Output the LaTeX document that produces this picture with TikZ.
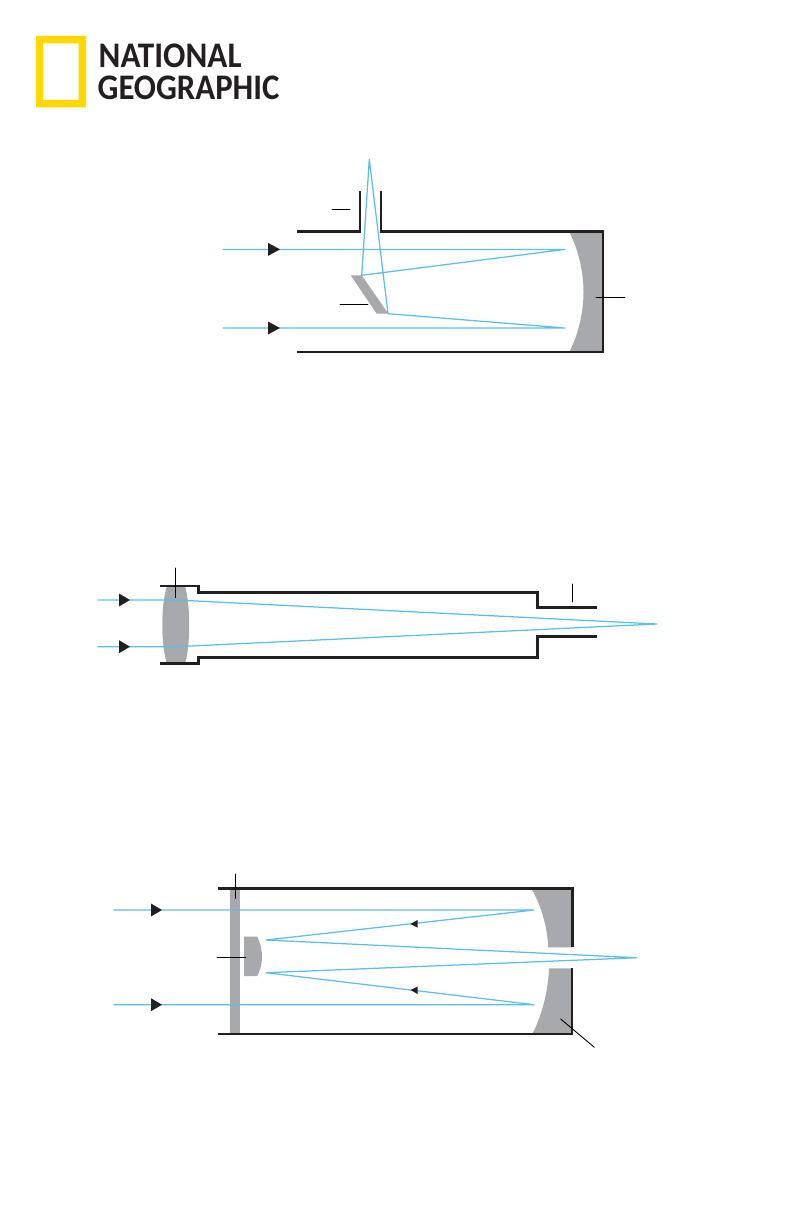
\documentclass[tikz,border=0pt]{standalone}
\usepackage{fontspec}
\setmainfont{Carlito}
\definecolor{natyellow}{HTML}{FFD802}
\definecolor{glassgray}{HTML}{A7A9AC}
\definecolor{raycyan}{HTML}{5CBEEC}
\definecolor{wallblack}{HTML}{231F20}
\tikzset{
ray/.style={raycyan, line width=1.25pt},
wall/.style={wallblack, line width=2.7pt, line cap=butt, line join=miter},
thinwall/.style={wallblack, line width=2.2pt, line cap=butt, line join=miter},
glass/.style={fill=glassgray, draw=none},
leader/.style={black, line width=.9pt},
brand/.style={wallblack, inner sep=0pt, anchor=base west, font=\fontsize{36}{36}\selectfont\bfseries}
}
\begin{document}
\begin{tikzpicture}[x=1pt, y=-1pt, line cap=round, line join=round]
\useasboundingbox (0,0) rectangle (793,1225);
\fill[natyellow, even odd rule] (36,36) rectangle (86,107.3) (43,43.3) rectangle (78.7,100);
\node[brand, xscale=.92] (nat) at (98.5,67.5) {NATIONAL};
\node[brand, xscale=.91] (geo) at (97.5,100) {GEOGRAPHIC};
% newtonian
\coordinate (Na) at (223,249.4);
\coordinate (Nb) at (565,249.4);
\coordinate (Nc) at (361.7,275.3);
\coordinate (Nd) at (369.3,159.3);
\coordinate (Ne) at (388,313.7);
\coordinate (Nf) at (565,328);
\coordinate (Ng) at (223,328);
\fill[glass] (569.3,232) .. controls (578.5,250) and (583.5,272) .. (583.5,292) .. controls (583.5,312) and (578.5,334) .. (569.3,352) -- (603,352) -- (603,232) -- cycle;
\fill[glass] (350.7,275.3) -- (361.7,275.3) -- (388.3,313.7) -- (376.7,313.7) -- cycle;
\draw[ray] (Na) -- (Nb) -- (Nc) -- (Nd) -- (Ne) -- (Nf) -- (Ng);
\draw[wall] (297,231.7) -- (360,231.7) -- (360,191);
\draw[wall] (381,191) -- (381,231.7) -- (603,231.7) -- (603,352) -- (297,352);
\draw[leader] (332,209.3) -- (350,209.3);
\draw[leader] (340,304.3) -- (368,304.3);
\draw[leader] (596,297.3) -- (625,297.3);
\foreach \y in {249.4,328} \fill[wallblack] (268,\y-6.5) -- (280,\y) -- (268,\y+6.5) -- cycle;
% refractor
\coordinate (Ra) at (98,600);
\coordinate (Rb) at (176,600);
\coordinate (Rc) at (656.7,624);
\coordinate (Rd) at (176,646.7);
\coordinate (Re) at (98,646.7);
\fill[glass] (167,586) .. controls (160.7,605) and (160.7,645) .. (167,664) -- (185,664) .. controls (190.6,645) and (190.6,605) .. (185,586) -- cycle;
\draw[ray] (Ra) -- (Rb) -- (Rc) -- (Rd) -- (Re);
\draw[wall] (160,586) -- (198.3,586) -- (198.3,592.3) -- (537.3,592.3) -- (537.3,607.7) -- (597,607.7);
\draw[wall] (160,663.7) -- (198.3,663.7) -- (198.3,657.7) -- (537.3,657.7) -- (537.3,636.7) -- (597,636.7);
\draw[leader] (175.3,568) -- (175.3,597.7);
\draw[leader] (572.3,584) -- (572.3,602);
\foreach \y in {600,646.7} \fill[wallblack] (119,\y-6.5) -- (130,\y) -- (119,\y+6.5) -- cycle;
% catadioptric
\coordinate (Ca) at (114,910);
\coordinate (Cb) at (534,910);
\coordinate (Cc) at (266,940);
\coordinate (Cd) at (637,957.7);
\coordinate (Ce) at (266,972.7);
\coordinate (Cf) at (534,1004.7);
\coordinate (Cg) at (114,1004.7);
\fill[glass] (230,888) rectangle (240,1034);
\fill[glass] (244,936.7) -- (257.3,936.7) .. controls (260.5,943) and (262,950) .. (262,956.5) .. controls (262,963) and (260.5,970) .. (257.3,976) -- (244,976) -- cycle;
\fill[glass] (531,888) .. controls (541,905) and (547,925) .. (548.3,947.3) -- (572,947.3) -- (572,888) -- cycle;
\fill[glass] (549,968.3) .. controls (548,992) and (542,1015) .. (532.3,1034) -- (572,1034) -- (572,968.3) -- cycle;
\draw[ray] (Ca) -- (Cb) -- (Cc) -- (Cd) -- (Ce) -- (Cf) -- (Cg);
\draw[wall] (218.3,888.3) -- (572.3,888.3) -- (572.3,947);
\draw[thinwall] (572.3,968.3) -- (572.3,1033.7) -- (218.3,1033.7);
\draw[leader] (235.3,874) -- (235.3,898.3);
\draw[leader] (217,957.3) -- (245.7,957.3);
\draw[leader] (560.7,1019) -- (594.3,1047.3);
\foreach \y in {910,1004.7} \fill[wallblack] (151,\y-6.5) -- (162,\y) -- (151,\y+6.5) -- cycle;
\fill[wallblack] (410.5,924) -- (417.5,920) -- (417.5,927.5) -- cycle;
\fill[wallblack] (410.5,990) -- (417.5,986.5) -- (417.5,994) -- cycle;
\end{tikzpicture}
\end{document}
